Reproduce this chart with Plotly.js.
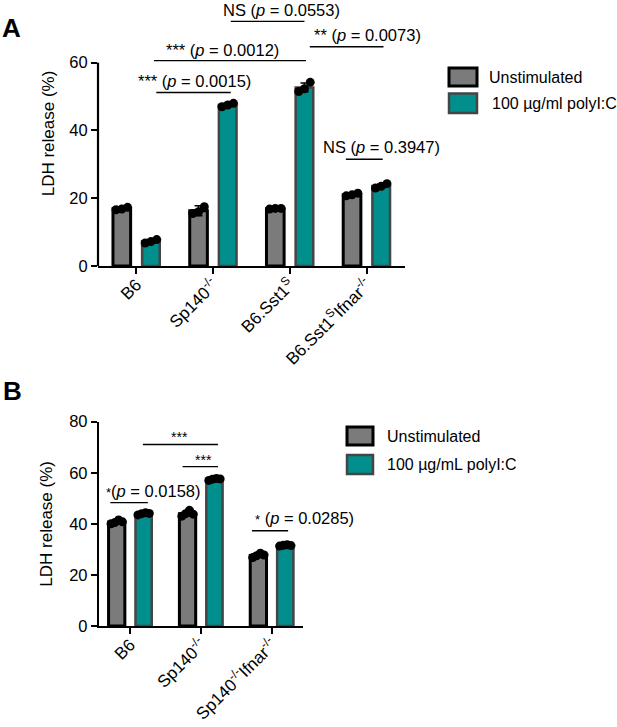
<!DOCTYPE html>
<html>
<head>
<meta charset="utf-8">
<script src="https://cdn.plot.ly/plotly-3.0.1.min.js"></script>
<style>html,body{margin:0;padding:0;background:#fff}#chart{width:617px;height:727px}</style>
</head>
<body>
<div id="chart"></div>
<script>
// ---------- DATA ----------
var catsA = ['B6', 'Sp140<sup>-/-</sup>', 'B6.Sst1<sup>S</sup>', 'B6.Sst1<sup>S</sup>Ifnar<sup>-/-</sup>'];
var unstimA = [16.9, 16.3, 16.9, 21.0];
var unstimErrA = [0.3, 1.5, 0.2, 0.4];
var polyA = [7.3, 47.5, 52.7, 23.6];
var polyErrA = [0.5, 0.5, 1.3, 0.6];
var unstimRepA = [[16.6, 16.8, 17.3], [15.5, 16.0, 17.5], [16.8, 17.0, 17.0], [20.7, 21.0, 21.5]];
var polyRepA = [[6.8, 7.2, 7.8], [47.0, 47.5, 48.0], [51.5, 52.3, 54.2], [23.0, 23.5, 24.3]];

var catsB = ['B6', 'Sp140<sup>-/-</sup>', 'Sp140<sup>-/-</sup>Ifnar<sup>-/-</sup>'];
var unstimB = [40.7, 44.0, 27.6];
var unstimErrB = [0.6, 0.9, 0.7];
var polyB = [44.0, 57.5, 31.5];
var polyErrB = [0.3, 0.3, 0.2];
var unstimRepB = [[40.0, 40.5, 41.5, 40.8], [43.0, 44.0, 45.3, 43.8], [26.8, 27.5, 28.5, 27.8]];
var polyRepB = [[43.5, 44.0, 44.3, 44.1], [57.0, 57.5, 57.8, 57.6], [31.3, 31.6, 31.8, 31.5]];

var seriesNames = ['Unstimulated', '100 µg/ml polyI:C'];
var seriesNamesB = ['Unstimulated', '100 µg/mL polyI:C'];

// significance labels
var sigA = [
  {t: '*** (<i>p</i> = 0.0015)', tx: 0.0, ty: 54.7, x0: 0.26, x1: 1.23, y: 51.2},
  {t: '*** (<i>p</i> = 0.0012)', tx: 0.36, ty: 63.8, x0: 0.23, x1: 2.21, y: 60.6},
  {t: 'NS (<i>p</i> = 0.0553)', tx: 1.10, ty: 75.6, x0: 1.23, x1: 2.19, y: 72.2},
  {t: '** (<i>p</i> = 0.0073)', tx: 2.29, ty: 68.2, x0: 2.26, x1: 3.22, y: 64.7},
  {t: 'NS (<i>p</i> = 0.3947)', tx: 2.40, ty: 35.0, x0: 2.73, x1: 3.21, y: 31.5}
];
var sigB = [
  {t: '<span style="font-size:13px">*</span>(<i>p</i> = 0.0158)', tx: -0.37, ty: 53.0, x0: -0.28, x1: 0.25, y: 48.3},
  {t: '<span style="font-size:14px">***</span>', tx: 0.55, ty: 74.1, x0: 0.18, x1: 1.24, y: 71.1},
  {t: '<span style="font-size:14px">***</span>', tx: 0.89, ty: 65.2, x0: 0.74, x1: 1.24, y: 62.4},
  {t: '<span style="font-size:13px">*</span> (<i>p</i> = 0.0285)', tx: 1.73, ty: 42.2, x0: 1.72, x1: 2.23, y: 37.3}
];

// ---------- STYLE ----------
var FONT = 'Arial, "Liberation Sans", sans-serif';
var GREY = '#7b7b7b', TEAL = '#008f8c', TEALLINE = '#454545';
var BW = 0.23, CO = 0.19;
var jit3 = [-0.075, 0, 0.075];
var jit4 = [-0.08, -0.027, 0.027, 0.08];

function idx(a) { return a.map(function (_, i) { return i; }); }

function barTrace(vals, errs, side, xa, ya, fill, line, lw) {
  return {
    type: 'bar', x: idx(vals), y: vals, xaxis: xa, yaxis: ya,
    width: BW, offset: side * CO - BW / 2,
    marker: {color: fill, line: {color: line, width: lw}},
    error_y: {type: 'data', array: errs, visible: true, color: '#000', thickness: 1.5, width: 4},
    showlegend: false, hoverinfo: 'skip'
  };
}
function ptTrace(reps, side, jit, xa, ya) {
  var xs = [], ys = [];
  reps.forEach(function (r, i) {
    r.forEach(function (v, j) { xs.push(i + side * CO + jit[j]); ys.push(v); });
  });
  return {type: 'scatter', mode: 'markers', x: xs, y: ys, xaxis: xa, yaxis: ya,
    marker: {color: '#000', size: 9}, showlegend: false, hoverinfo: 'skip', cliponaxis: false};
}

var data = [
  barTrace(unstimA, unstimErrA, -1, 'x', 'y', GREY, '#000', 3),
  barTrace(polyA, polyErrA, 1, 'x', 'y', TEAL, TEALLINE, 2.5),
  ptTrace(unstimRepA, -1, jit3, 'x', 'y'),
  ptTrace(polyRepA, 1, jit3, 'x', 'y'),
  barTrace(unstimB, unstimErrB, -1, 'x2', 'y2', GREY, '#000', 3),
  barTrace(polyB, polyErrB, 1, 'x2', 'y2', TEAL, TEALLINE, 2.5),
  ptTrace(unstimRepB, -1, jit4, 'x2', 'y2'),
  ptTrace(polyRepB, 1, jit4, 'x2', 'y2')
];

function px(x) { return x / 617; }
function py(y) { return 1 - y / 727; }

var xDomA = [px(98), px(405)], yDomA = [py(266), py(1)];
var xDomB = [px(99), px(303)], yDomB = [py(626), py(421.7)];

var shapes = [], annotations = [];

// y-axis line for A only up to 60
shapes.push({type: 'line', xref: 'paper', yref: 'y', x0: xDomA[0], x1: xDomA[0], y0: 0, y1: 60,
  line: {color: '#000', width: 2.2}});

function addSig(list, xr, yr) {
  list.forEach(function (s) {
    shapes.push({type: 'line', xref: xr, yref: yr, x0: s.x0, x1: s.x1, y0: s.y, y1: s.y,
      line: {color: '#000', width: 1.4}});
    annotations.push({xref: xr, yref: yr, x: s.tx, y: s.ty, xanchor: 'left', yanchor: 'middle',
      text: s.t, showarrow: false, font: {family: FONT, size: 16.5, color: '#000'}});
  });
}
addSig(sigA, 'x', 'y');
addSig(sigB, 'x2', 'y2');

function addLegend(x0, x1, rows, names, tx) {
  var fills = [GREY, TEAL], lines = ['#000', TEALLINE], lws = [3, 2.5];
  rows.forEach(function (r, i) {
    shapes.push({type: 'rect', xref: 'paper', yref: 'paper', x0: px(x0), x1: px(x1), y0: py(r[1]), y1: py(r[0]),
      fillcolor: fills[i], line: {color: lines[i], width: lws[i]}});
    annotations.push({xref: 'paper', yref: 'paper', x: px(tx[i]), y: py((r[0] + r[1]) / 2), xanchor: 'left', yanchor: 'middle',
      text: names[i], showarrow: false, font: {family: FONT, size: 16, color: '#000'}});
  });
}
addLegend(449, 477, [[68, 86], [93.5, 113]], seriesNames, [487, 490]);
addLegend(347, 373, [[427, 445], [455, 474]], seriesNamesB, [385, 385]);

annotations.push({xref: 'paper', yref: 'paper', x: px(0), y: py(28), xanchor: 'left', yanchor: 'middle',
  text: '<b>A</b>', showarrow: false, font: {family: FONT, size: 26, color: '#000'}});
annotations.push({xref: 'paper', yref: 'paper', x: px(1), y: py(391), xanchor: 'left', yanchor: 'middle',
  text: '<b>B</b>', showarrow: false, font: {family: FONT, size: 26, color: '#000'}});

var tickFont = {family: FONT, size: 16.5, color: '#000'};
var xCommon = {showgrid: false, zeroline: false, showline: true, linecolor: '#000', linewidth: 2.2,
  ticks: 'outside', tickcolor: '#000', tickwidth: 2, ticklen: 6, tickangle: -45, tickfont: {family: FONT, size: 17, color: '#000'},
  ticklabelstandoff: -6, automargin: false, fixedrange: true};
var yCommon = {showgrid: false, zeroline: false, ticks: 'outside', tickcolor: '#000', tickwidth: 2, ticklen: 6,
  tickfont: tickFont, automargin: false, fixedrange: true};
var yTitleFont = {family: FONT, size: 17, color: '#000'};

var layout = {
  width: 617, height: 727,
  margin: {l: 0, r: 0, t: 0, b: 0},
  paper_bgcolor: '#fff', plot_bgcolor: 'rgba(0,0,0,0)',
  font: {family: FONT, color: '#000'},
  barmode: 'overlay', showlegend: false,
  xaxis: Object.assign({}, xCommon, {domain: xDomA, anchor: 'y', range: [-0.5, 3.5], tickvals: idx(catsA), ticktext: catsA}),
  yaxis: Object.assign({}, yCommon, {domain: yDomA, anchor: 'x', range: [0, 78.2], tickvals: [0, 20, 40, 60], showline: false,
    title: {text: 'LDH release (%)', font: yTitleFont, standoff: 10}}),
  xaxis2: Object.assign({}, xCommon, {domain: xDomB, anchor: 'y2', range: [-0.44, 2.44], tickvals: idx(catsB), ticktext: catsB}),
  yaxis2: Object.assign({}, yCommon, {domain: yDomB, anchor: 'x2', range: [0, 80], tickvals: [0, 20, 40, 60, 80],
    showline: true, linecolor: '#000', linewidth: 2.2,
    title: {text: 'LDH release (%)', font: yTitleFont, standoff: 12}}),
  shapes: shapes,
  annotations: annotations
};

Plotly.newPlot('chart', data, layout, {displayModeBar: false, staticPlot: true});
</script>
</body>
</html>
